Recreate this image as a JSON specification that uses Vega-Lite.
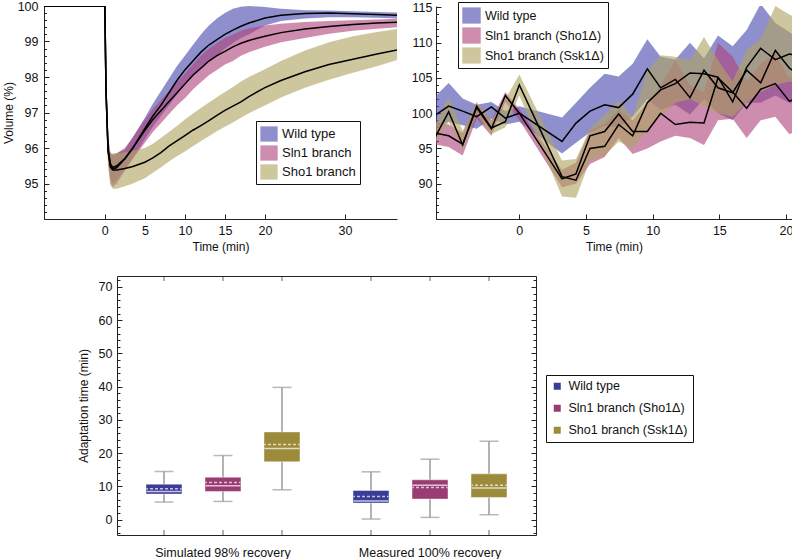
{
 "$schema": "https://vega.github.io/schema/vega-lite/v6.json",
 "padding": {"left": 2, "top": 0, "right": 0, "bottom": 0},
 "background": "white",
 "config": {
  "font": "Liberation Sans",
  "axis": {"labelFont": "Liberation Sans", "titleFont": "Liberation Sans", "labelFontSize": 12.5, "titleFontSize": 12, "titleFontWeight": "normal", "labelColor": "#111", "titleColor": "#111", "domainColor": "#222", "tickColor": "#222", "grid": false},
  "legend": {"labelFont": "Liberation Sans", "labelColor": "#111"}
 },
 "datasets": {
  "vol": [
   {"series":"Wild type","t":-7.6,"mean":100,"lo":100,"hi":100},
   {"series":"Wild type","t":0,"mean":100,"lo":100,"hi":100},
   {"series":"Wild type","t":0.15,"mean":97.6,"lo":97.4,"hi":97.8},
   {"series":"Wild type","t":0.4,"mean":96.0,"lo":95.7,"hi":96.3},
   {"series":"Wild type","t":0.7,"mean":95.55,"lo":95.15,"hi":95.85},
   {"series":"Wild type","t":1,"mean":95.45,"lo":95.0,"hi":95.8},
   {"series":"Wild type","t":1.5,"mean":95.5,"lo":95.1,"hi":95.85},
   {"series":"Wild type","t":2.5,"mean":95.7,"lo":95.4,"hi":95.95},
   {"series":"Wild type","t":3.5,"mean":96.0,"lo":95.7,"hi":96.3},
   {"series":"Wild type","t":5,"mean":96.55,"lo":96.25,"hi":96.85},
   {"series":"Wild type","t":6,"mean":96.9,"lo":96.6,"hi":97.25},
   {"series":"Wild type","t":7,"mean":97.2,"lo":96.9,"hi":97.6},
   {"series":"Wild type","t":8,"mean":97.55,"lo":97.2,"hi":97.95},
   {"series":"Wild type","t":9,"mean":97.9,"lo":97.5,"hi":98.3},
   {"series":"Wild type","t":10,"mean":98.2,"lo":97.85,"hi":98.6},
   {"series":"Wild type","t":11,"mean":98.45,"lo":98.05,"hi":98.9},
   {"series":"Wild type","t":12,"mean":98.7,"lo":98.3,"hi":99.2},
   {"series":"Wild type","t":13,"mean":98.9,"lo":98.45,"hi":99.45},
   {"series":"Wild type","t":14,"mean":99.05,"lo":98.6,"hi":99.65},
   {"series":"Wild type","t":15,"mean":99.2,"lo":98.8,"hi":99.8},
   {"series":"Wild type","t":16,"mean":99.32,"lo":98.95,"hi":99.92},
   {"series":"Wild type","t":17,"mean":99.43,"lo":99.1,"hi":99.98},
   {"series":"Wild type","t":18,"mean":99.52,"lo":99.2,"hi":100.0},
   {"series":"Wild type","t":20,"mean":99.66,"lo":99.45,"hi":99.97},
   {"series":"Wild type","t":22,"mean":99.74,"lo":99.58,"hi":99.92},
   {"series":"Wild type","t":25,"mean":99.79,"lo":99.65,"hi":99.88},
   {"series":"Wild type","t":28,"mean":99.8,"lo":99.68,"hi":99.87},
   {"series":"Wild type","t":31,"mean":99.78,"lo":99.68,"hi":99.85},
   {"series":"Wild type","t":34,"mean":99.76,"lo":99.67,"hi":99.83},
   {"series":"Wild type","t":36.5,"mean":99.74,"lo":99.65,"hi":99.82},
   {"series":"Sln1 branch","t":-7.6,"mean":100,"lo":100,"hi":100},
   {"series":"Sln1 branch","t":0,"mean":100,"lo":100,"hi":100},
   {"series":"Sln1 branch","t":0.15,"mean":97.6,"lo":97.4,"hi":97.8},
   {"series":"Sln1 branch","t":0.4,"mean":95.95,"lo":95.6,"hi":96.3},
   {"series":"Sln1 branch","t":0.7,"mean":95.5,"lo":95.0,"hi":95.85},
   {"series":"Sln1 branch","t":1,"mean":95.4,"lo":94.9,"hi":95.8},
   {"series":"Sln1 branch","t":1.5,"mean":95.45,"lo":95.0,"hi":95.85},
   {"series":"Sln1 branch","t":2.5,"mean":95.7,"lo":95.35,"hi":96.0},
   {"series":"Sln1 branch","t":3.5,"mean":96.0,"lo":95.7,"hi":96.3},
   {"series":"Sln1 branch","t":5,"mean":96.5,"lo":96.15,"hi":96.8},
   {"series":"Sln1 branch","t":6,"mean":96.8,"lo":96.45,"hi":97.1},
   {"series":"Sln1 branch","t":7,"mean":97.05,"lo":96.7,"hi":97.35},
   {"series":"Sln1 branch","t":8,"mean":97.3,"lo":96.95,"hi":97.6},
   {"series":"Sln1 branch","t":9,"mean":97.55,"lo":97.2,"hi":97.85},
   {"series":"Sln1 branch","t":10,"mean":97.8,"lo":97.4,"hi":98.1},
   {"series":"Sln1 branch","t":11,"mean":98.05,"lo":97.65,"hi":98.35},
   {"series":"Sln1 branch","t":12,"mean":98.25,"lo":97.85,"hi":98.6},
   {"series":"Sln1 branch","t":13,"mean":98.45,"lo":98.05,"hi":98.8},
   {"series":"Sln1 branch","t":14,"mean":98.6,"lo":98.2,"hi":98.95},
   {"series":"Sln1 branch","t":15,"mean":98.72,"lo":98.35,"hi":99.1},
   {"series":"Sln1 branch","t":16,"mean":98.85,"lo":98.45,"hi":99.2},
   {"series":"Sln1 branch","t":17,"mean":98.95,"lo":98.6,"hi":99.3},
   {"series":"Sln1 branch","t":18,"mean":99.03,"lo":98.7,"hi":99.37},
   {"series":"Sln1 branch","t":20,"mean":99.15,"lo":98.85,"hi":99.45},
   {"series":"Sln1 branch","t":22,"mean":99.25,"lo":98.98,"hi":99.5},
   {"series":"Sln1 branch","t":25,"mean":99.35,"lo":99.1,"hi":99.55},
   {"series":"Sln1 branch","t":28,"mean":99.42,"lo":99.22,"hi":99.58},
   {"series":"Sln1 branch","t":31,"mean":99.48,"lo":99.3,"hi":99.6},
   {"series":"Sln1 branch","t":34,"mean":99.52,"lo":99.36,"hi":99.62},
   {"series":"Sln1 branch","t":36.5,"mean":99.54,"lo":99.4,"hi":99.64},
   {"series":"Sho1 branch","t":-7.6,"mean":100,"lo":100,"hi":100},
   {"series":"Sho1 branch","t":0,"mean":100,"lo":100,"hi":100},
   {"series":"Sho1 branch","t":0.15,"mean":97.6,"lo":97.4,"hi":97.8},
   {"series":"Sho1 branch","t":0.4,"mean":95.9,"lo":95.5,"hi":96.2},
   {"series":"Sho1 branch","t":0.7,"mean":95.45,"lo":94.95,"hi":95.85},
   {"series":"Sho1 branch","t":1,"mean":95.38,"lo":94.85,"hi":95.85},
   {"series":"Sho1 branch","t":1.5,"mean":95.38,"lo":94.85,"hi":95.85},
   {"series":"Sho1 branch","t":2.5,"mean":95.42,"lo":94.92,"hi":95.88},
   {"series":"Sho1 branch","t":3.5,"mean":95.48,"lo":95.0,"hi":95.92},
   {"series":"Sho1 branch","t":5,"mean":95.6,"lo":95.15,"hi":96.0},
   {"series":"Sho1 branch","t":6,"mean":95.72,"lo":95.3,"hi":96.12},
   {"series":"Sho1 branch","t":7,"mean":95.87,"lo":95.45,"hi":96.28},
   {"series":"Sho1 branch","t":8,"mean":96.05,"lo":95.62,"hi":96.45},
   {"series":"Sho1 branch","t":9,"mean":96.2,"lo":95.77,"hi":96.62},
   {"series":"Sho1 branch","t":10,"mean":96.35,"lo":95.9,"hi":96.8},
   {"series":"Sho1 branch","t":11,"mean":96.5,"lo":96.05,"hi":96.97},
   {"series":"Sho1 branch","t":12,"mean":96.63,"lo":96.2,"hi":97.13},
   {"series":"Sho1 branch","t":13,"mean":96.77,"lo":96.33,"hi":97.28},
   {"series":"Sho1 branch","t":14,"mean":96.92,"lo":96.47,"hi":97.43},
   {"series":"Sho1 branch","t":15,"mean":97.06,"lo":96.6,"hi":97.58},
   {"series":"Sho1 branch","t":16,"mean":97.18,"lo":96.72,"hi":97.72},
   {"series":"Sho1 branch","t":17,"mean":97.3,"lo":96.85,"hi":97.87},
   {"series":"Sho1 branch","t":18,"mean":97.45,"lo":96.98,"hi":98.0},
   {"series":"Sho1 branch","t":20,"mean":97.7,"lo":97.2,"hi":98.22},
   {"series":"Sho1 branch","t":22,"mean":97.9,"lo":97.42,"hi":98.45},
   {"series":"Sho1 branch","t":25,"mean":98.15,"lo":97.7,"hi":98.75},
   {"series":"Sho1 branch","t":28,"mean":98.35,"lo":97.92,"hi":98.98},
   {"series":"Sho1 branch","t":31,"mean":98.5,"lo":98.12,"hi":99.15},
   {"series":"Sho1 branch","t":34,"mean":98.65,"lo":98.3,"hi":99.27},
   {"series":"Sho1 branch","t":36.5,"mean":98.76,"lo":98.48,"hi":99.35}
  ],
  "resp": [
   {"series":"Wild type","t":-6.4,"mean":99.6,"lo":97.8,"hi":102.2},
   {"series":"Wild type","t":-5.3,"mean":101.0,"lo":98.8,"hi":104.3},
   {"series":"Wild type","t":-4.25,"mean":100.3,"lo":98.3,"hi":102.1},
   {"series":"Wild type","t":-3.2,"mean":99.5,"lo":97.8,"hi":101.2},
   {"series":"Wild type","t":-2.1,"mean":100.9,"lo":99.2,"hi":101.6},
   {"series":"Wild type","t":-1.05,"mean":99.3,"lo":98.4,"hi":100.3},
   {"series":"Wild type","t":0,"mean":100.0,"lo":98.8,"hi":101.0},
   {"series":"Wild type","t":3.2,"mean":96.0,"lo":94.3,"hi":99.4},
   {"series":"Wild type","t":4.25,"mean":98.6,"lo":95.8,"hi":101.5},
   {"series":"Wild type","t":5.3,"mean":100.3,"lo":97.3,"hi":103.6},
   {"series":"Wild type","t":6.4,"mean":101.2,"lo":98.2,"hi":105.6},
   {"series":"Wild type","t":7.45,"mean":100.8,"lo":98.0,"hi":105.2},
   {"series":"Wild type","t":8.5,"mean":102.7,"lo":99.5,"hi":107.0},
   {"series":"Wild type","t":9.6,"mean":106.3,"lo":102.0,"hi":110.5},
   {"series":"Wild type","t":10.6,"mean":103.6,"lo":100.5,"hi":108.0},
   {"series":"Wild type","t":11.7,"mean":104.8,"lo":101.2,"hi":107.6},
   {"series":"Wild type","t":12.8,"mean":102.2,"lo":99.8,"hi":110.0},
   {"series":"Wild type","t":13.85,"mean":106.1,"lo":102.0,"hi":107.8},
   {"series":"Wild type","t":14.9,"mean":103.6,"lo":100.0,"hi":111.0},
   {"series":"Wild type","t":16.0,"mean":102.9,"lo":99.0,"hi":109.5},
   {"series":"Wild type","t":17.05,"mean":106.1,"lo":101.5,"hi":111.8},
   {"series":"Wild type","t":18.1,"mean":104.3,"lo":101.5,"hi":115.5},
   {"series":"Wild type","t":19.2,"mean":108.9,"lo":102.5,"hi":112.8},
   {"series":"Wild type","t":20.25,"mean":106.4,"lo":101.5,"hi":111.5},
   {"series":"Wild type","t":21.3,"mean":105.0,"lo":101.0,"hi":110.0},
   {"series":"Sln1 branch (Sho1Δ)","t":-6.4,"mean":97.2,"lo":95.6,"hi":98.8},
   {"series":"Sln1 branch (Sho1Δ)","t":-5.3,"mean":96.8,"lo":95.2,"hi":98.4},
   {"series":"Sln1 branch (Sho1Δ)","t":-4.25,"mean":95.6,"lo":94.0,"hi":97.2},
   {"series":"Sln1 branch (Sho1Δ)","t":-3.2,"mean":100.8,"lo":99.2,"hi":101.4},
   {"series":"Sln1 branch (Sho1Δ)","t":-2.1,"mean":97.8,"lo":96.8,"hi":99.0},
   {"series":"Sln1 branch (Sho1Δ)","t":-1.05,"mean":102.5,"lo":101.6,"hi":103.0},
   {"series":"Sln1 branch (Sho1Δ)","t":0,"mean":100.0,"lo":99.0,"hi":100.6},
   {"series":"Sln1 branch (Sho1Δ)","t":3.2,"mean":90.7,"lo":89.5,"hi":92.0},
   {"series":"Sln1 branch (Sho1Δ)","t":4.25,"mean":91.4,"lo":90.0,"hi":93.0},
   {"series":"Sln1 branch (Sho1Δ)","t":5.3,"mean":96.8,"lo":92.8,"hi":97.6},
   {"series":"Sln1 branch (Sho1Δ)","t":6.4,"mean":97.4,"lo":93.8,"hi":98.5},
   {"series":"Sln1 branch (Sho1Δ)","t":7.45,"mean":99.9,"lo":96.5,"hi":100.5},
   {"series":"Sln1 branch (Sho1Δ)","t":8.5,"mean":97.4,"lo":94.2,"hi":99.0},
   {"series":"Sln1 branch (Sho1Δ)","t":9.6,"mean":97.4,"lo":95.0,"hi":101.5},
   {"series":"Sln1 branch (Sho1Δ)","t":10.6,"mean":100.0,"lo":96.0,"hi":104.0},
   {"series":"Sln1 branch (Sho1Δ)","t":11.7,"mean":98.4,"lo":96.8,"hi":107.5},
   {"series":"Sln1 branch (Sho1Δ)","t":12.8,"mean":98.7,"lo":96.5,"hi":104.0},
   {"series":"Sln1 branch (Sho1Δ)","t":13.85,"mean":98.6,"lo":95.5,"hi":103.0},
   {"series":"Sln1 branch (Sho1Δ)","t":14.9,"mean":105.0,"lo":99.0,"hi":110.0},
   {"series":"Sln1 branch (Sho1Δ)","t":16.0,"mean":103.0,"lo":99.2,"hi":108.0},
   {"series":"Sln1 branch (Sho1Δ)","t":17.05,"mean":100.7,"lo":96.5,"hi":104.5},
   {"series":"Sln1 branch (Sho1Δ)","t":18.1,"mean":103.4,"lo":99.0,"hi":107.0},
   {"series":"Sln1 branch (Sho1Δ)","t":19.2,"mean":104.2,"lo":99.5,"hi":108.5},
   {"series":"Sln1 branch (Sho1Δ)","t":20.25,"mean":101.7,"lo":97.0,"hi":105.0},
   {"series":"Sln1 branch (Sho1Δ)","t":21.3,"mean":102.5,"lo":98.0,"hi":106.0},
   {"series":"Sho1 branch (Ssk1Δ)","t":-6.4,"mean":96.3,"lo":95.5,"hi":98.0},
   {"series":"Sho1 branch (Ssk1Δ)","t":-5.3,"mean":100.2,"lo":98.8,"hi":102.3},
   {"series":"Sho1 branch (Ssk1Δ)","t":-4.25,"mean":95.5,"lo":94.8,"hi":97.5},
   {"series":"Sho1 branch (Ssk1Δ)","t":-3.2,"mean":101.0,"lo":99.8,"hi":101.6},
   {"series":"Sho1 branch (Ssk1Δ)","t":-2.1,"mean":97.9,"lo":97.0,"hi":99.0},
   {"series":"Sho1 branch (Ssk1Δ)","t":-1.05,"mean":98.8,"lo":98.0,"hi":102.0},
   {"series":"Sho1 branch (Ssk1Δ)","t":0,"mean":104.0,"lo":102.5,"hi":105.5},
   {"series":"Sho1 branch (Ssk1Δ)","t":3.2,"mean":91.0,"lo":88.2,"hi":93.3},
   {"series":"Sho1 branch (Ssk1Δ)","t":4.25,"mean":90.5,"lo":88.0,"hi":93.5},
   {"series":"Sho1 branch (Ssk1Δ)","t":5.3,"mean":95.0,"lo":93.3,"hi":97.8},
   {"series":"Sho1 branch (Ssk1Δ)","t":6.4,"mean":95.3,"lo":94.0,"hi":99.8},
   {"series":"Sho1 branch (Ssk1Δ)","t":7.45,"mean":98.4,"lo":96.0,"hi":101.8},
   {"series":"Sho1 branch (Ssk1Δ)","t":8.5,"mean":96.8,"lo":95.0,"hi":99.5},
   {"series":"Sho1 branch (Ssk1Δ)","t":9.6,"mean":101.5,"lo":97.5,"hi":106.0},
   {"series":"Sho1 branch (Ssk1Δ)","t":10.6,"mean":103.3,"lo":99.5,"hi":108.2},
   {"series":"Sho1 branch (Ssk1Δ)","t":11.7,"mean":104.2,"lo":101.5,"hi":108.0},
   {"series":"Sho1 branch (Ssk1Δ)","t":12.8,"mean":105.7,"lo":102.0,"hi":107.5},
   {"series":"Sho1 branch (Ssk1Δ)","t":13.85,"mean":105.6,"lo":101.0,"hi":110.8},
   {"series":"Sho1 branch (Ssk1Δ)","t":14.9,"mean":105.1,"lo":100.0,"hi":107.5},
   {"series":"Sho1 branch (Ssk1Δ)","t":16.0,"mean":101.6,"lo":99.5,"hi":104.5},
   {"series":"Sho1 branch (Ssk1Δ)","t":17.05,"mean":106.5,"lo":101.5,"hi":109.0},
   {"series":"Sho1 branch (Ssk1Δ)","t":18.1,"mean":109.2,"lo":103.0,"hi":110.5},
   {"series":"Sho1 branch (Ssk1Δ)","t":19.2,"mean":107.6,"lo":104.0,"hi":115.2},
   {"series":"Sho1 branch (Ssk1Δ)","t":20.25,"mean":108.4,"lo":104.5,"hi":114.0},
   {"series":"Sho1 branch (Ssk1Δ)","t":21.3,"mean":108.0,"lo":104.0,"hi":113.0}
  ],
  "box": [
   {"group":"Simulated 98% recovery","strain":"Wild type","wlo":5.3,"q1":7.7,"median":8.5,"mean":9.3,"q3":10.7,"whi":14.5},
   {"group":"Simulated 98% recovery","strain":"Sln1 branch (Sho1Δ)","wlo":5.5,"q1":8.5,"median":10.2,"mean":11.2,"q3":12.8,"whi":19.3},
   {"group":"Simulated 98% recovery","strain":"Sho1 branch (Ssk1Δ)","wlo":9.0,"q1":17.4,"median":21.4,"mean":22.6,"q3":26.4,"whi":39.8},
   {"group":"Measured 100% recovery","strain":"Wild type","wlo":0.2,"q1":5.0,"median":5.6,"mean":7.0,"q3":8.8,"whi":14.4},
   {"group":"Measured 100% recovery","strain":"Sln1 branch (Sho1Δ)","wlo":0.7,"q1":6.2,"median":10.4,"mean":9.7,"q3":12.0,"whi":18.2},
   {"group":"Measured 100% recovery","strain":"Sho1 branch (Ssk1Δ)","wlo":1.5,"q1":6.7,"median":9.5,"mean":10.4,"q3":13.8,"whi":23.6}
  ]
 },
 "spacing": 20,
 "resolve": {"scale": {"color": "independent", "x": "independent", "y": "independent"}, "legend": {"color": "independent"}, "axis": {"x": "independent", "y": "independent"}},
 "vconcat": [
  {
   "hconcat": [
    {
     "width": 353, "height": 213,
     "view": {"stroke": null},
     "data": {"name": "vol"},
     "resolve": {"axis": {"x": "independent", "y": "independent"}},
     "layer": [
      {
       "mark": {"type": "area", "opacity": 0.62, "clip": true},
       "encoding": {
        "x": {"field": "t", "type": "quantitative", "scale": {"domain": [-7.6, 36.5], "nice": false, "zero": false},
              "axis": {"title": "Time (min)", "values": [0,5,10,15,20,30], "tickSize": -5, "labelPadding": 10, "titlePadding": 5, "labelFlush": false}},
        "y": {"field": "lo", "type": "quantitative", "scale": {"domain": [94, 100], "nice": false, "zero": false},
              "axis": {"title": "Volume (%)", "values": [94,94.2,94.4,94.6,94.8,95,95.2,95.4,95.6,95.8,96,96.2,96.4,96.6,96.8,97,97.2,97.4,97.6,97.8,98,98.2,98.4,98.6,98.8,99,99.2,99.4,99.6,99.8,100],
                       "labelExpr": "abs(datum.value-round(datum.value))<0.01 && datum.value>94.5 ? format(datum.value,'d') : ''",
                       "tickSize": {"condition": {"test": "abs(datum.value-round(datum.value))<0.01", "value": -5}, "value": -2.5},
                       "labelPadding": 11, "labelOverlap": false, "titlePadding": 2}},
        "y2": {"field": "hi"},
        "color": {"field": "series", "type": "nominal",
                  "scale": {"domain": ["Wild type", "Sln1 branch", "Sho1 branch"], "range": ["#4a4ab0", "#b0457e", "#b0a562"]},
                  "legend": {"title": null, "orient": "none", "legendX": 212, "legendY": 115, "strokeColor": "#111", "fillColor": "white", "padding": 4,
                             "symbolType": "M-1,-0.88L1,-0.88L1,0.88L-1,0.88Z", "symbolSize": 300, "symbolOpacity": 0.62, "symbolStrokeWidth": 0,
                             "labelFontSize": 13, "rowPadding": 2, "labelOffset": 4}}
       }
      },
      {
       "mark": {"type": "line", "color": "black", "strokeWidth": 1.5, "clip": true},
       "encoding": {
        "x": {"field": "t", "type": "quantitative", "axis": null},
        "y": {"field": "mean", "type": "quantitative", "axis": null},
        "detail": {"field": "series"}
       }
      }
     ]
    },
    {
     "width": 356, "height": 213,
     "view": {"stroke": null},
     "data": {"name": "resp"},
     "resolve": {"axis": {"x": "independent", "y": "independent"}},
     "layer": [
      {
       "mark": {"type": "area", "opacity": 0.62, "clip": true},
       "encoding": {
        "x": {"field": "t", "type": "quantitative", "scale": {"domain": [-6.25, 20.45], "nice": false, "zero": false},
              "axis": {"title": "Time (min)", "values": [0,5,10,15,20], "tickSize": -5, "labelPadding": 10, "titlePadding": 5, "labelFlush": false}},
        "y": {"field": "lo", "type": "quantitative", "scale": {"domain": [85, 115.2], "nice": false, "zero": false},
              "axis": {"title": null, "values": [85,86,87,88,89,90,91,92,93,94,95,96,97,98,99,100,101,102,103,104,105,106,107,108,109,110,111,112,113,114,115],
                       "labelExpr": "datum.value % 5 == 0 && datum.value >= 90 ? format(datum.value,'d') : ''",
                       "tickSize": {"condition": {"test": "datum.value % 5 == 0", "value": -5}, "value": -2.5},
                       "labelPadding": 9, "labelOverlap": false}},
        "y2": {"field": "hi"},
        "color": {"field": "series", "type": "nominal",
                  "scale": {"domain": ["Wild type", "Sln1 branch (Sho1Δ)", "Sho1 branch (Ssk1Δ)"], "range": ["#4a4ab0", "#b0457e", "#b0a562"]},
                  "legend": {"title": null, "orient": "none", "legendX": 22, "legendY": -4, "strokeColor": "#111", "fillColor": "white", "padding": 4,
                             "symbolType": "M-1,-0.88L1,-0.88L1,0.88L-1,0.88Z", "symbolSize": 340, "symbolOpacity": 0.62, "symbolStrokeWidth": 0,
                             "labelFontSize": 12.5, "rowPadding": 2, "labelOffset": 4}}
       }
      },
      {
       "mark": {"type": "line", "color": "black", "strokeWidth": 1.5, "clip": true},
       "encoding": {
        "x": {"field": "t", "type": "quantitative", "axis": null},
        "y": {"field": "mean", "type": "quantitative", "axis": null},
        "detail": {"field": "series"}
       }
      }
     ]
    }
   ],
   "spacing": 14,
   "resolve": {"scale": {"color": "independent", "x": "independent", "y": "independent"}, "legend": {"color": "independent"}, "axis": {"x": "independent", "y": "independent"}}
  },
  {
   "hconcat": [
    {
     "width": 12, "height": 10,
     "view": {"stroke": null},
     "data": {"values": []},
     "mark": {"type": "point", "opacity": 0}
    },
    {
     "width": 419, "height": 259,
     "view": {"stroke": "#222", "strokeWidth": 1},
     "data": {"name": "box"},
     "encoding": {
      "x": {"field": "group", "type": "nominal", "sort": ["Simulated 98% recovery", "Measured 100% recovery"],
            "scale": {"paddingInner": 0.145, "paddingOuter": 0.0845},
            "axis": {"title": null, "labelAngle": 0, "ticks": false, "domain": false, "labelPadding": 11, "labelFontSize": 12.5}},
      "xOffset": {"field": "strain", "type": "nominal", "sort": ["Wild type", "Sln1 branch (Sho1Δ)", "Sho1 branch (Ssk1Δ)"], "scale": {"paddingInner": 0, "paddingOuter": 0}}
     },
     "resolve": {"axis": {"y": "independent"}},
     "layer": [
      {
       "mark": {"type": "rule", "color": "#9a9a9a", "strokeWidth": 1.5},
       "encoding": {
        "y": {"field": "wlo", "type": "quantitative", "scale": {"domain": [-4.6, 73.3], "nice": false, "zero": false},
              "axis": {"orient": "left", "title": "Adaptation time (min)", "domain": false,
                       "values": [-4,-2,0,2,4,6,8,10,12,14,16,18,20,22,24,26,28,30,32,34,36,38,40,42,44,46,48,50,52,54,56,58,60,62,64,66,68,70,72],
                       "labelExpr": "datum.value % 10 == 0 && datum.value >= 0 ? format(datum.value,'d') : ''",
                       "tickSize": {"condition": {"test": "datum.value % 10 == 0", "value": -5}, "value": -3},
                       "labelPadding": 10, "labelOverlap": false, "titlePadding": 8}},
        "y2": {"field": "whi"}
       }
      },
      {
       "mark": {"type": "tick", "color": "#9a9a9a", "size": 19, "thickness": 1.5},
       "encoding": {
        "y": {"field": "wlo", "type": "quantitative",
              "axis": {"orient": "right", "title": null, "domain": false, "labels": false,
                       "values": [-4,-2,0,2,4,6,8,10,12,14,16,18,20,22,24,26,28,30,32,34,36,38,40,42,44,46,48,50,52,54,56,58,60,62,64,66,68,70,72],
                       "tickSize": {"condition": {"test": "datum.value % 10 == 0", "value": -5}, "value": -3}}}
       }
      },
      {
       "mark": {"type": "tick", "color": "#9a9a9a", "size": 19, "thickness": 1.5},
       "encoding": {"y": {"field": "whi", "type": "quantitative", "axis": null}}
      },
      {
       "mark": {"type": "bar", "width": 36, "stroke": "white", "strokeOpacity": 0.45, "strokeWidth": 1},
       "encoding": {
        "y": {"field": "q1", "type": "quantitative", "axis": null},
        "y2": {"field": "q3"},
        "color": {"field": "strain", "type": "nominal",
                  "scale": {"domain": ["Wild type", "Sln1 branch (Sho1Δ)", "Sho1 branch (Ssk1Δ)"], "range": ["#3b3b98", "#9b3b73", "#9b8b3b"]},
                  "legend": {"title": null, "orient": "none", "legendX": 429, "legendY": 99, "strokeColor": "#111", "fillColor": "white", "padding": 5,
                             "symbolType": "square", "symbolSize": 49, "symbolStrokeWidth": 0, "labelFontSize": 12.5, "rowPadding": 9, "labelOffset": 5}}
       }
      },
      {
       "mark": {"type": "tick", "color": "white", "size": 35, "thickness": 1.5},
       "encoding": {"y": {"field": "median", "type": "quantitative", "axis": null}}
      },
      {
       "mark": {"type": "tick", "filled": false, "color": "white", "stroke": "white", "strokeWidth": 1.5, "strokeDash": [3, 2], "strokeDashOffset": 1.5, "size": 35, "thickness": 0},
       "encoding": {"y": {"field": "mean", "type": "quantitative", "axis": null}}
      },
      {
       "mark": {"type": "tick", "orient": "vertical", "color": "#222", "size": 5, "thickness": 1},
       "encoding": {"y": {"datum": 72.55, "type": "quantitative", "axis": null}}
      },
      {
       "mark": {"type": "tick", "orient": "vertical", "color": "#222", "size": 5, "thickness": 1},
       "encoding": {"y": {"datum": -3.85, "type": "quantitative", "axis": null}}
      }
     ]
    }
   ],
   "spacing": 20,
   "resolve": {"legend": {"color": "independent"}, "scale": {"color": "independent"}}
  }
 ]
}
